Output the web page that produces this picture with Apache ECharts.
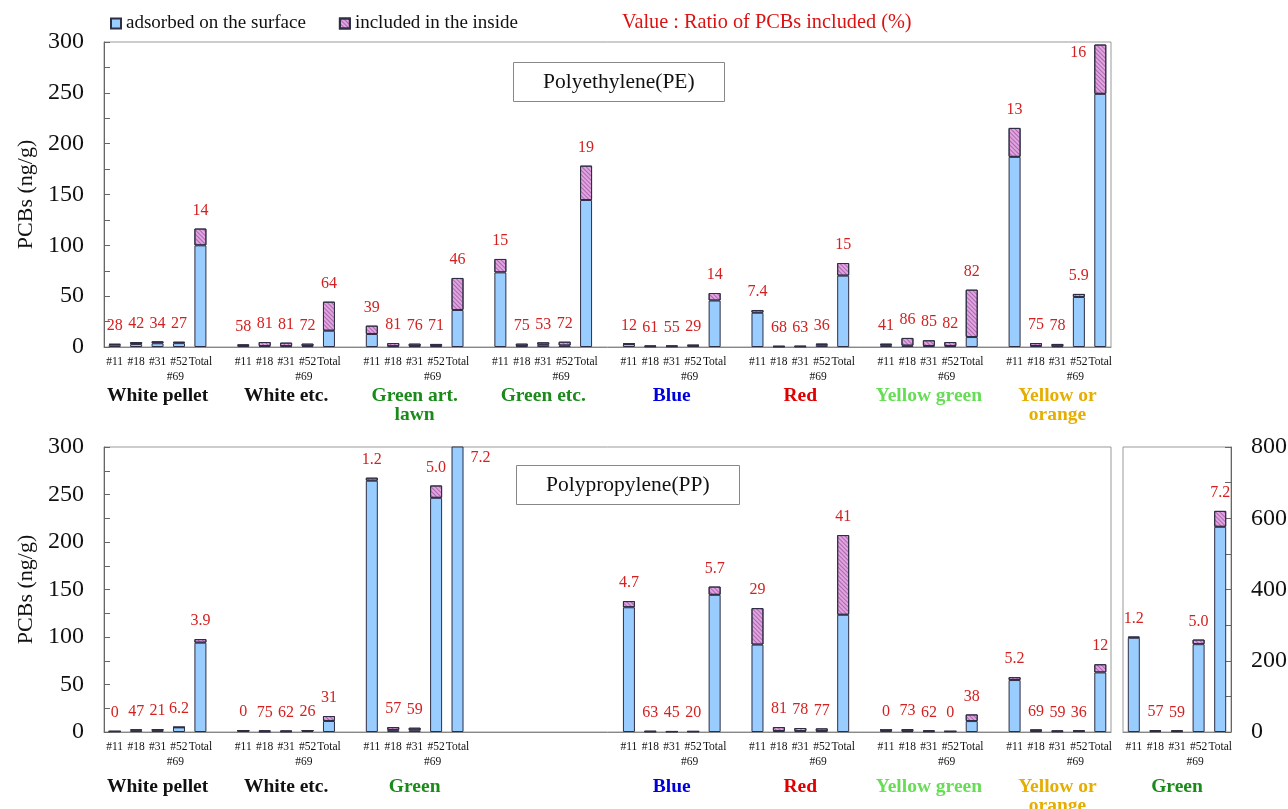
<!DOCTYPE html>
<html>
<head>
<meta charset="utf-8">
<title>PCBs in PE and PP pellets</title>
<script src="https://cdn.jsdelivr.net/npm/echarts@6/dist/echarts.min.js"></script>
<style>
html, body { margin: 0; padding: 0; background: #fff; }
#main { width: 1288px; height: 809px; }
</style>
</head>
<body>
<div id="main"></div>
<script>
var sampleNames = ['#11', '#18', '#31', '#52', 'Total #69'];

// Polyethylene (PE)
var peGroups = ['White pellet', 'White etc.', 'Green art.\nlawn', 'Green etc.', 'Blue', 'Red', 'Yellow green', 'Yellow or\norange'];
var peSurface = [
  [2.2, 2.9, 3.7, 3.8, 100],
  [1.1, 0.9, 0.8, 0.9, 16],
  [12.8, 0.7, 0.8, 0.9, 36.4],
  [73.4, 0.8, 2.2, 1.4, 144.6],
  [2.9, 0.5, 0.6, 1.4, 45.7],
  [33.7, 0.3, 0.4, 2.1, 70.2],
  [1.9, 1.3, 1.0, 0.9, 9.8],
  [187, 1.0, 0.7, 49.2, 249]
];
var peInside = [
  [0.8, 2.0, 1.9, 1.4, 16.5],
  [1.5, 4.0, 3.5, 2.4, 28.6],
  [8.2, 3.2, 2.5, 2.1, 31.5],
  [13.2, 2.5, 2.4, 3.8, 33.8],
  [0.4, 0.8, 0.7, 0.6, 7.4],
  [2.7, 0.7, 0.6, 1.2, 12.4],
  [1.4, 7.6, 5.6, 4.0, 46.6],
  [28.5, 2.9, 2.3, 3.0, 48.5]
];
var peRatio = [
  ['28', '42', '34', '27', '14'],
  ['58', '81', '81', '72', '64'],
  ['39', '81', '76', '71', '46'],
  ['15', '75', '53', '72', '19'],
  ['12', '61', '55', '29', '14'],
  ['7.4', '68', '63', '36', '15'],
  ['41', '86', '85', '82', '82'],
  ['13', '75', '78', '5.9', '16']
];

// Polypropylene (PP), 4th slot is empty
var ppGroups = ['White pellet', 'White etc.', 'Green', '', 'Blue', 'Red', 'Yellow green', 'Yellow or\norange'];
var ppSurface = [
  [0.7, 1.5, 2.2, 4.9, 94],
  [1.4, 0.4, 0.5, 1.25, 11.6],
  [264.5, 2.2, 1.8, 246.5, 576],
  [],
  [131.3, 0.4, 0.4, 0.55, 144.4],
  [92, 1.0, 0.9, 0.9, 123.4],
  [2.1, 0.8, 0.6, 0.7, 11.5],
  [54.7, 0.9, 0.6, 0.9, 62.7]
];
var ppInside = [
  [0, 1.3, 0.6, 0.3, 3.8],
  [0, 1.3, 0.9, 0.45, 5.2],
  [3.2, 3.0, 2.7, 13, 44.7],
  [],
  [6.5, 0.6, 0.3, 0.15, 8.7],
  [38.4, 4.2, 3.3, 2.9, 83.9],
  [0, 2.3, 1.1, 0, 7.0],
  [3.0, 1.9, 0.8, 0.5, 8.6]
];
var ppRatio = [
  ['0', '47', '21', '6.2', '3.9'],
  ['0', '75', '62', '26', '31'],
  ['1.2', '57', '59', '5.0', '7.2'],
  [],
  ['4.7', '63', '45', '20', '5.7'],
  ['29', '81', '78', '77', '41'],
  ['0', '73', '62', '0', '38'],
  ['5.2', '69', '59', '36', '12']
];

var groupColors = ['#111111', '#111111', '#1b8a1b', '#1b8a1b', '#0000dd', '#e00000', '#66dd55', '#e6ae00'];
var ppGroupColors = ['#111111', '#111111', '#1b8a1b', '#111111', '#0000dd', '#e00000', '#66dd55', '#e6ae00'];

var serif = '"Liberation Serif", "DejaVu Serif", serif';
var blue = '#99ccff';
var purple = '#e0a4e0';
var edge = '#2e2e44';
var red = '#d42020';

// lay groups out as 5 bars + 1 empty slot
function flatten(groups, fill) {
  var out = [];
  groups.forEach(function (g, i) {
    for (var j = 0; j < 5; j++) out.push(g.length ? g[j] : fill);
    if (i < groups.length - 1) out.push(fill);
  });
  return out;
}
function sampleCats(groups) {
  return flatten(groups.map(function (g) { return g.length ? sampleNames : []; }), '');
}
function groupCats(names, colors) {
  var out = [];
  names.forEach(function (n, i) {
    for (var j = 0; j < 5; j++) {
      out.push(j === 2 ? { value: n || ' ', textStyle: { color: colors[i] } } : ' ');
    }
    if (i < names.length - 1) out.push(' ');
  });
  return out;
}

var sampleLabel = {
  interval: 0,
  margin: 7,
  fontFamily: serif,
  fontSize: 11.5,
  lineHeight: 15,
  color: '#111',
  formatter: function (v) {
    return v === 'Total #69' ? 'Total\n{p|#69}' : v;
  },
  rich: {
    p: { fontFamily: serif, fontSize: 11.5, lineHeight: 15, color: '#111', padding: [0, 50, 0, 0] }
  }
};
var groupLabel = {
  interval: 0,
  margin: 8,
  fontFamily: serif,
  fontSize: 19.5,
  fontWeight: 'bold',
  lineHeight: 19
};

function xSamples(grid, cats) {
  return {
    type: 'category', gridIndex: grid, data: cats,
    axisLine: { lineStyle: { color: '#888' } },
    axisTick: { show: false },
    axisLabel: sampleLabel
  };
}
function xGroups(grid, cats, offset) {
  return {
    type: 'category', gridIndex: grid, data: cats, position: 'bottom', offset: offset,
    axisLine: { show: false }, axisTick: { show: false },
    axisLabel: groupLabel
  };
}
function yAxis(grid, max, interval, pos, name) {
  return {
    type: 'value', gridIndex: grid, min: 0, max: max, interval: interval, position: pos,
    name: name, nameLocation: 'middle', nameGap: 67,
    nameTextStyle: { fontFamily: serif, fontSize: 22, color: '#111' },
    axisLine: { show: true, lineStyle: { color: '#666' } },
    axisTick: { show: true, inside: true, length: 6, lineStyle: { color: '#666' } },
    minorTick: { show: true, splitNumber: 2, length: 6, lineStyle: { color: '#666' } },
    splitLine: { show: false },
    axisLabel: { fontFamily: serif, fontSize: 24, color: '#111', margin: 20 }
  };
}

function barSeries(xi, yi, stack, surf, ins, ratio, max) {
  var s = flatten(surf, '-');
  var n = flatten(ins, '-');
  var r = flatten(ratio, '');
  var lab = { color: red, fontFamily: serif, fontSize: 16 };
  // bars running past the top: label beside the bar instead of above it
  var surfData = s.map(function (v, i) {
    if (v !== '-' && v + n[i] > max) {
      return { value: v, label: Object.assign({ show: true, position: [19, 3], formatter: r[i] }, lab) };
    }
    return v;
  });
  var insData = n.map(function (v, i) {
    if (v === '-') return v;
    if (s[i] + v > max) return { value: v, label: { show: false } };
    if (s[i] + v > max * 0.95) return { value: v, label: { position: [-24, 0] } };
    return v;
  });
  return [{
    name: 'adsorbed on the surface', type: 'bar', stack: stack,
    xAxisIndex: xi, yAxisIndex: yi, barWidth: 12,
    itemStyle: { color: blue, borderColor: edge, borderWidth: 1 },
    data: surfData
  }, {
    name: 'included in the inside', type: 'bar', stack: stack,
    xAxisIndex: xi, yAxisIndex: yi, barWidth: 12,
    itemStyle: {
      color: purple, borderColor: edge, borderWidth: 1,
      decal: {
        symbol: 'rect', symbolSize: 1, color: 'rgba(110,30,110,0.45)',
        dashArrayX: [1, 0], dashArrayY: [1, 2], rotation: Math.PI / 4
      }
    },
    label: Object.assign({
      show: true, position: 'top', distance: 10,
      formatter: function (p) { return r[p.dataIndex]; }
    }, lab),
    data: insData
  }];
}

var greenSurf = [ppSurface[2]];
var greenIns = [ppInside[2]];
var greenRatio = [ppRatio[2]];

var option = {
  backgroundColor: '#fff',
  animation: false,
  title: [{
    text: 'Value : Ratio of PCBs included (%)',
    left: 622, top: 13, padding: 0,
    textStyle: { fontFamily: serif, fontSize: 20.3, fontWeight: 'normal', color: '#dd1111' }
  }, {
    text: 'Polyethylene(PE)',
    left: 513, top: 62, padding: [9, 30], borderWidth: 1, borderColor: '#888',
    textStyle: { fontFamily: serif, fontSize: 21.5, fontWeight: 'normal', color: '#111' }
  }, {
    text: 'Polypropylene(PP)',
    left: 516, top: 465, padding: [9, 30], borderWidth: 1, borderColor: '#888',
    textStyle: { fontFamily: serif, fontSize: 21.5, fontWeight: 'normal', color: '#111' }
  }],
  legend: {
    left: 110, top: 14, padding: 0, itemGap: 33, itemWidth: 10, itemHeight: 10,
    icon: 'rect',
    textStyle: { fontFamily: serif, fontSize: 19, color: '#111' },
    data: ['adsorbed on the surface', 'included in the inside']
  },
  grid: [
    { left: 104, top: 42, width: 1007, height: 305, show: true, borderColor: '#999', outerBoundsMode: 'none' },
    { left: 104, top: 447, width: 1007, height: 285, show: true, borderColor: '#999', outerBoundsMode: 'none' },
    { left: 1123, top: 447, width: 108, height: 285, show: true, borderColor: '#999', outerBoundsMode: 'none' }
  ],
  xAxis: [
    xSamples(0, sampleCats(peGroups.map(function () { return [1]; }))),
    xGroups(0, groupCats(peGroups, groupColors), 31),
    xSamples(1, sampleCats(ppSurface)),
    xGroups(1, groupCats(ppGroups, ppGroupColors), 37),
    xSamples(2, sampleNames),
    xGroups(2, groupCats(['Green'], ['#1b8a1b']), 37)
  ],
  yAxis: [
    yAxis(0, 300, 50, 'left', 'PCBs (ng/g)'),
    yAxis(1, 300, 50, 'left', 'PCBs (ng/g)'),
    yAxis(2, 800, 200, 'right', '')
  ],
  series: [].concat(
    barSeries(0, 0, 'pe', peSurface, peInside, peRatio, 300),
    barSeries(2, 1, 'pp', ppSurface, ppInside, ppRatio, 300),
    barSeries(4, 2, 'ppg', greenSurf, greenIns, greenRatio, 800)
  )
};

var chart = echarts.init(document.getElementById('main'));
chart.setOption(option);
</script>
</body>
</html>
